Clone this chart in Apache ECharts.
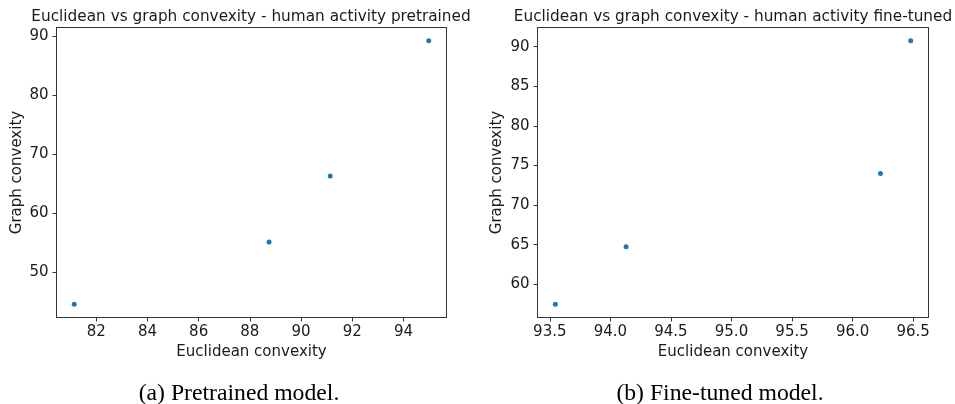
<!DOCTYPE html>
<html>
<head>
<meta charset="utf-8">
<script src="https://cdn.jsdelivr.net/npm/echarts@6/dist/echarts.min.js"></script>
<style>
  html, body { margin: 0; padding: 0; background: #fff; }
  #chart { width: 955px; height: 404px; }
</style>
</head>
<body>
<div id="chart"></div>
<script>
// Pretrained model: Euclidean vs graph convexity
const pretrainedEuclidean = [81.14, 88.75, 91.14, 94.99];
const pretrainedGraph = [44.52, 55.08, 66.27, 89.25];
const pretrainedXTicks = [82, 84, 86, 88, 90, 92, 94];
const pretrainedYTicks = [50, 60, 70, 80, 90];

// Fine-tuned model: Euclidean vs graph convexity
const finetunedEuclidean = [93.545, 94.13, 96.23, 96.48];
const finetunedGraph = [57.48, 64.75, 73.99, 90.76];
const finetunedXTicks = [93.5, 94.0, 94.5, 95.0, 95.5, 96.0, 96.5];
const finetunedYTicks = [60, 65, 70, 75, 80, 85, 90];

const panelTitles = [
  'Euclidean vs graph convexity - human activity pretrained',
  'Euclidean vs graph convexity - human activity fine-tuned'
];
const captions = ['(a) Pretrained model.', '(b) Fine-tuned model.'];
const xName = 'Euclidean convexity';
const yName = 'Graph convexity';

const FONT = 'DejaVu Sans';
const FS = 15;
const INK = '#1a1a1a';
const AXIS = '#333333';

// data limits padded by 5% on each side
function padded(values) {
  const lo = Math.min(...values), hi = Math.max(...values);
  const m = (hi - lo) * 0.05;
  return [lo - m, hi + m];
}

function makeAxis(values, ticks, decimals, name, isY, gap) {
  const [lo, hi] = padded(values);
  return {
    type: 'value',
    min: lo,
    max: hi,
    name: name,
    nameLocation: 'middle',
    nameGap: gap,
    nameTextStyle: { fontFamily: FONT, fontSize: FS, color: INK },
    axisLine: { show: true, onZero: false, lineStyle: { color: AXIS, width: 1 } },
    axisTick: { show: true, inside: false, length: 4, customValues: ticks, lineStyle: { color: AXIS, width: 1 } },
    axisLabel: {
      show: true,
      customValues: ticks,
      margin: isY ? 8 : 7,
      fontFamily: FONT,
      fontSize: FS,
      color: INK,
      formatter: v => v.toFixed(decimals)
    },
    splitLine: { show: false }
  };
}

function frameAxis(gridIndex, isY) {
  // opposite spine of the plot frame
  return {
    type: 'value',
    gridIndex: gridIndex,
    position: isY ? 'right' : 'top',
    axisLine: { show: true, onZero: false, lineStyle: { color: AXIS, width: 1 } },
    axisTick: { show: false },
    axisLabel: { show: false },
    splitLine: { show: false }
  };
}

const grids = [
  { left: 56.5, top: 27.5, width: 390, height: 290 },
  { left: 537.5, top: 27.5, width: 391, height: 290 }
];

const xAxes = [
  Object.assign(makeAxis(pretrainedEuclidean, pretrainedXTicks, 0, xName, false, 26), { gridIndex: 0 }),
  Object.assign(makeAxis(finetunedEuclidean, finetunedXTicks, 1, xName, false, 26), { gridIndex: 1 }),
  frameAxis(0, false),
  frameAxis(1, false)
];
const yAxes = [
  Object.assign(makeAxis(pretrainedGraph, pretrainedYTicks, 0, yName, true, 32), { gridIndex: 0 }),
  Object.assign(makeAxis(finetunedGraph, finetunedYTicks, 0, yName, true, 33), { gridIndex: 1 }),
  frameAxis(0, true),
  frameAxis(1, true)
];

function pairs(xs, ys) { return xs.map((x, i) => [x, ys[i]]); }

const titleStyle = { fontFamily: FONT, fontSize: 15.3, fontWeight: 'normal', color: INK };
const captionStyle = { fontFamily: 'Liberation Serif', fontSize: 23.7, fontWeight: 'normal', color: '#000' };

const chart = echarts.init(document.getElementById('chart'), null, { renderer: 'canvas' });
chart.setOption({
  animation: false,
  backgroundColor: '#ffffff',
  title: [
    { text: panelTitles[0], left: 251, top: 10, padding: 0, textAlign: 'center', textStyle: titleStyle },
    { text: panelTitles[1], left: 733, top: 10, padding: 0, textAlign: 'center', textStyle: titleStyle },
    { text: captions[0], left: 239, top: 382, padding: 0, textAlign: 'center', textStyle: captionStyle },
    { text: captions[1], left: 720, top: 382, padding: 0, textAlign: 'center', textStyle: captionStyle }
  ],
  grid: grids,
  xAxis: xAxes,
  yAxis: yAxes,
  series: [
    { type: 'scatter', xAxisIndex: 0, yAxisIndex: 0, symbolSize: 5,
      itemStyle: { color: '#1f77b4', opacity: 1 }, data: pairs(pretrainedEuclidean, pretrainedGraph) },
    { type: 'scatter', xAxisIndex: 1, yAxisIndex: 1, symbolSize: 5,
      itemStyle: { color: '#1f77b4', opacity: 1 }, data: pairs(finetunedEuclidean, finetunedGraph) }
  ]
});
</script>
</body>
</html>
